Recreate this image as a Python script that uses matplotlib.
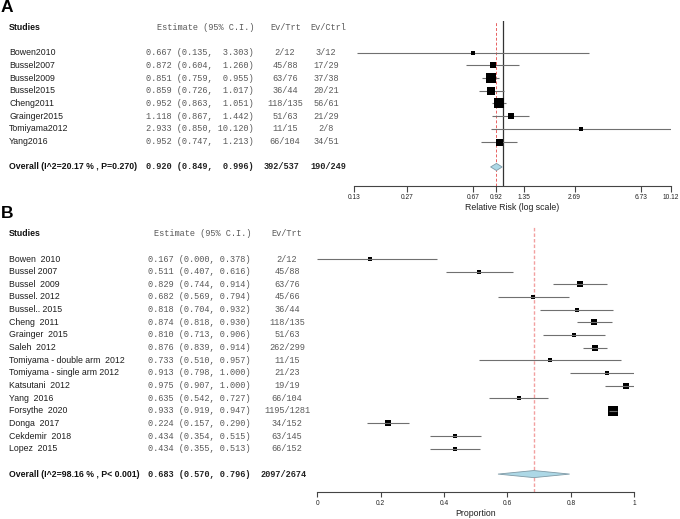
import matplotlib
matplotlib.use('Agg')
import matplotlib.pyplot as plt
from matplotlib.transforms import blended_transform_factory as btf
from matplotlib.ticker import NullLocator, FixedLocator, FixedFormatter

# ---------------- data: panel A (relative risk) ----------------
studies_a = ["Bowen2010", "Bussel2007", "Bussel2009", "Bussel2015", "Cheng2011",
             "Grainger2015", "Tomiyama2012", "Yang2016"]
est_a = [0.667, 0.872, 0.851, 0.859, 0.952, 1.118, 2.933, 0.952]
lo_a = [0.135, 0.604, 0.759, 0.726, 0.863, 0.867, 0.850, 0.747]
hi_a = [3.303, 1.260, 0.955, 1.017, 1.051, 1.442, 10.120, 1.213]
evtrt_a = ["2/12", "45/88", "63/76", "36/44", "118/135", "51/63", "11/15", "66/104"]
evctrl_a = ["3/12", "17/29", "37/38", "20/21", "56/61", "21/29", "2/8", "34/51"]
overall_a_label = "Overall (I^2=20.17 % , P=0.270)"
overall_a = (0.920, 0.849, 0.996)
overall_a_trt = "392/537"
overall_a_ctrl = "190/249"
ticks_a = [0.13, 0.27, 0.67, 0.92, 1.35, 2.69, 6.73, 10.12]

# ---------------- data: panel B (proportion) ----------------
studies_b = ["Bowen  2010", "Bussel 2007", "Bussel  2009", "Bussel. 2012", "Bussel.. 2015",
             "Cheng  2011", "Grainger  2015", "Saleh  2012", "Tomiyama - double arm  2012",
             "Tomiyama - single arm 2012", "Katsutani  2012", "Yang  2016", "Forsythe  2020",
             "Donga  2017", "Cekdemir  2018", "Lopez  2015"]
est_b = [0.167, 0.511, 0.829, 0.682, 0.818, 0.874, 0.810, 0.876, 0.733, 0.913, 0.975,
         0.635, 0.933, 0.224, 0.434, 0.434]
lo_b = [0.000, 0.407, 0.744, 0.569, 0.704, 0.818, 0.713, 0.839, 0.510, 0.798, 0.907,
        0.542, 0.919, 0.157, 0.354, 0.355]
hi_b = [0.378, 0.616, 0.914, 0.794, 0.932, 0.930, 0.906, 0.914, 0.957, 1.000, 1.000,
        0.727, 0.947, 0.290, 0.515, 0.513]
evtrt_b = ["2/12", "45/88", "63/76", "45/66", "36/44", "118/135", "51/63", "262/299",
           "11/15", "21/23", "19/19", "66/104", "1195/1281", "34/152", "63/145", "66/152"]
overall_b_label = "Overall (I^2=98.16 % , P< 0.001)"
overall_b = (0.683, 0.570, 0.796)
overall_b_trt = "2097/2674"
ticks_b = [0, 0.2, 0.4, 0.6, 0.8, 1]

# ---------------- styles ----------------
box_px_a = [3.2, 6, 9.5, 8, 10, 6.5, 3.2, 7]
box_px_b = [3.5, 4.6, 5.3, 5, 5, 6, 5, 6.8, 3.2, 4.6, 5.6, 4.6, 10.5, 5.3, 5, 5]

SANS = "Liberation Sans"
MONO = "Liberation Mono"
NAME_C = "#1e1e1e"
NUM_C = "#5a5a5a"
CI_C = "#707070"
PX = 0.72  # points per pixel at 100 dpi

W, H = 680, 519
fig = plt.figure(figsize=(W / 100, H / 100), dpi=100)


def fx(px):
    return px / W


def fy(px):
    return 1 - px / H


def axrect(x0, x1, y0, y1):
    return [x0 / W, 1 - y1 / H, (x1 - x0) / W, (y1 - y0) / H]


def style_axis(ax, ticks, labels, ticklen_px, pad_px):
    for s in ["top", "right", "left"]:
        ax.spines[s].set_visible(False)
    ax.spines["bottom"].set_color("#444444")
    ax.spines["bottom"].set_linewidth(0.8)
    ax.set_yticks([])
    ax.xaxis.set_major_locator(FixedLocator(ticks))
    ax.xaxis.set_major_formatter(FixedFormatter(labels))
    ax.xaxis.set_minor_locator(NullLocator())
    ax.tick_params(axis="x", length=ticklen_px * PX, width=0.8, color="#444444",
                   labelsize=4.8, pad=pad_px * PX, labelcolor="#222222")
    for t in ax.get_xticklabels():
        t.set_fontfamily(SANS)
    ax.patch.set_alpha(0)


NAME_FS = 6.3
BOLD_FS = 6.3
MONO_FS = 6.2

# ================= Panel A =================
axA = fig.add_axes(axrect(354, 671, 21, 186))
axA.set_xscale("log")
axA.set_xlim(0.13, 10.12)
axA.set_ylim(10.5, -2.5)
trA = btf(fig.transFigure, axA.transData)

axA.axvline(1, color="#333333", lw=0.9, zorder=1)
axA.axvline(overall_a[0], color="#e86060", lw=0.7, ls=(0, (3, 2)), zorder=1)

for i in range(len(studies_a)):
    axA.plot([lo_a[i], hi_a[i]], [i, i], color=CI_C, lw=0.8, zorder=2,
             solid_capstyle="butt")
    axA.plot(est_a[i], i, marker="s", ms=box_px_a[i] * PX, color="black",
             mec="black", mew=0, zorder=3)
    axA.text(fx(9), i, studies_a[i], transform=trA, va="center", ha="left",
             fontsize=NAME_FS, family=SANS, color=NAME_C)
    axA.text(fx(146.5), i, f"{est_a[i]:.3f} ({lo_a[i]:.3f}, {hi_a[i]:6.3f})",
             transform=trA, va="center", ha="left", fontsize=MONO_FS, family=MONO, color=NUM_C)
    axA.text(fx(285), i, evtrt_a[i], transform=trA, va="center", ha="center",
             fontsize=MONO_FS, family=MONO, color=NUM_C)
    axA.text(fx(326), i, evctrl_a[i], transform=trA, va="center", ha="center",
             fontsize=MONO_FS, family=MONO, color=NUM_C)

r = len(studies_a) + 1
e, l, u = overall_a
h = 0.28
axA.fill([l, e, u, e], [r, r - h, r, r + h], facecolor="#add8e6",
         edgecolor="#7f9aa6", lw=0.6, zorder=3)
axA.text(fx(9), r, overall_a_label, transform=trA, va="center", ha="left",
         fontsize=BOLD_FS, family=SANS, weight="bold", color="#111111")
axA.text(fx(146.5), r, f"{e:.3f} ({l:.3f}, {u:6.3f})", transform=trA, va="center",
         ha="left", fontsize=MONO_FS, family=MONO, weight="bold", color="#222222")
axA.text(fx(282), r, overall_a_trt, transform=trA, va="center", ha="center",
         fontsize=MONO_FS, family=MONO, weight="bold", color="#222222")
axA.text(fx(328), r, overall_a_ctrl, transform=trA, va="center", ha="center",
         fontsize=MONO_FS, family=MONO, weight="bold", color="#222222")

# headers A
axA.text(fx(9), -2, "Studies", transform=trA, va="center", ha="left",
         fontsize=BOLD_FS, family=SANS, weight="bold", color="#111111")
axA.text(fx(157), -2, "Estimate (95% C.I.)", transform=trA, va="center", ha="left",
         fontsize=MONO_FS, family=MONO, color=NUM_C)
axA.text(fx(285.5), -2, "Ev/Trt", transform=trA, va="center", ha="center",
         fontsize=MONO_FS, family=MONO, color=NUM_C)
axA.text(fx(328), -2, "Ev/Ctrl", transform=trA, va="center", ha="center",
         fontsize=MONO_FS, family=MONO, color=NUM_C)

style_axis(axA, ticks_a, [f"{t:.2f}" for t in ticks_a], 6, 2.5)
fig.text(fx(512.5), fy(207.5), "Relative Risk (log scale)", ha="center", va="center",
         fontsize=6.3, family=SANS, color="#222222")
fig.text(fx(1), fy(8), "A", ha="left", va="center", fontsize=12.5, family=SANS,
         weight="bold", color="black")

# ================= Panel B =================
axB = fig.add_axes(axrect(317.3, 634.3, 227, 492.3))
axB.set_xlim(0, 1)
axB.set_ylim(18.44, -2.53)
trB = btf(fig.transFigure, axB.transData)

axB.axvline(overall_b[0], color="#f2a0a0", lw=1.0, ls=(0, (2.5, 1.5)), zorder=1)

for i in range(len(studies_b)):
    axB.plot(est_b[i], i, marker="s", ms=box_px_b[i] * PX, color="black",
             mec="black", mew=0, zorder=2)
    axB.plot([lo_b[i], hi_b[i]], [i, i], color=CI_C, lw=0.8, zorder=3,
             solid_capstyle="butt")
    axB.text(fx(9), i, studies_b[i], transform=trB, va="center", ha="left",
             fontsize=NAME_FS, family=SANS, color=NAME_C)
    axB.text(fx(148.3), i, f"{est_b[i]:.3f} ({lo_b[i]:.3f}, {hi_b[i]:.3f})",
             transform=trB, va="center", ha="left", fontsize=MONO_FS, family=MONO, color=NUM_C)
    axB.text(fx(287), i, evtrt_b[i], transform=trB, va="center", ha="center",
             fontsize=MONO_FS, family=MONO, color=NUM_C)

r = len(studies_b) + 1
e, l, u = overall_b
axB.fill([l, e, u, e], [r, r - h, r, r + h], facecolor="#add8e6",
         edgecolor="#7f9aa6", lw=0.6, zorder=3)
axB.text(fx(9), r, overall_b_label, transform=trB, va="center", ha="left",
         fontsize=BOLD_FS, family=SANS, weight="bold", color="#111111")
axB.text(fx(148.3), r, f"{e:.3f} ({l:.3f}, {u:.3f})", transform=trB, va="center",
         ha="left", fontsize=MONO_FS, family=MONO, weight="bold", color="#222222")
axB.text(fx(284), r, overall_b_trt, transform=trB, va="center", ha="center",
         fontsize=MONO_FS, family=MONO, weight="bold", color="#222222")

axB.text(fx(9), -2, "Studies", transform=trB, va="center", ha="left",
         fontsize=BOLD_FS, family=SANS, weight="bold", color="#111111")
axB.text(fx(154), -2, "Estimate (95% C.I.)", transform=trB, va="center", ha="left",
         fontsize=MONO_FS, family=MONO, color=NUM_C)
axB.text(fx(287), -2, "Ev/Trt", transform=trB, va="center", ha="center",
         fontsize=MONO_FS, family=MONO, color=NUM_C)

style_axis(axB, ticks_b, ["0", "0.2", "0.4", "0.6", "0.8", "1"], 4.5, 3)
fig.text(fx(475.8), fy(513.5), "Proportion", ha="center", va="center",
         fontsize=6.3, family=SANS, color="#222222")
fig.text(fx(1), fy(213), "B", ha="left", va="center", fontsize=12.5, family=SANS,
         weight="bold", color="black")

fig.savefig("out.png", dpi=100)
